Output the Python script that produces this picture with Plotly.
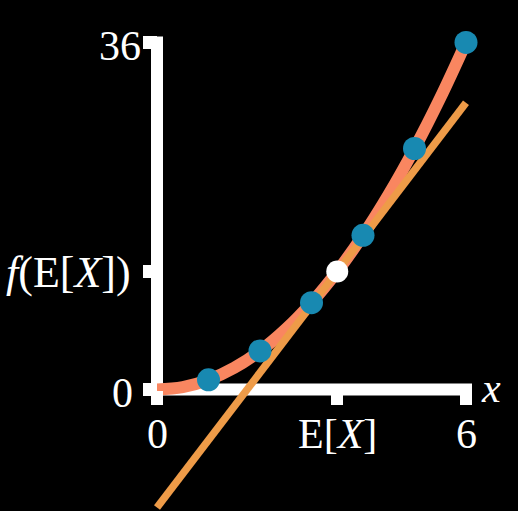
import plotly.graph_objects as go

# ---- data ----
curve_x = [0, 0.5, 1, 1.5, 2, 2.5, 3, 3.5, 4, 4.5, 5, 5.5, 6]
curve_y = [0, 0.25, 1, 2.25, 4, 6.25, 9, 12.25, 16, 20.25, 25, 30.25, 36]
point_x = [1, 2, 3, 4, 5, 6]
point_y = [1, 4, 9, 16, 25, 36]
mean_x = [3.5]
mean_y = [12.25]
tangent_x = [0, 6]
tangent_y = [-12.25, 29.75]
x_tick_vals = [0, 3.5, 6]
x_tick_text = ["0", "E[<i>X</i>]", "6"]
y_tick_vals = [0, 12.25, 36]
y_tick_text = ["0", "<i>f</i>(E[<i>X</i>])", "36"]

# ---- layout geometry ----
W, H = 518, 511
x0_px, px_per_x = 157, 51.5
y0_px, px_per_y = 389.5, 9.64
x_range = [(0 - x0_px) / px_per_x, (W - x0_px) / px_per_x]
y_range = [(y0_px - H) / px_per_y, y0_px / px_per_y]

FONT = "Liberation Serif"
CURVE = "#F98660"
TANGENT = "#EE9B48"
DOT = "#1889B1"

fig = go.Figure()
fig.add_trace(go.Scatter(x=curve_x, y=curve_y, mode="lines", line=dict(color=CURVE, width=12, shape="spline"), hoverinfo="skip"))
fig.add_trace(go.Scatter(x=tangent_x, y=tangent_y, mode="lines", line=dict(color=TANGENT, width=7.5), hoverinfo="skip"))
fig.add_trace(go.Scatter(x=point_x, y=point_y, mode="markers", marker=dict(color=DOT, size=23, line=dict(width=0))))
fig.add_trace(go.Scatter(x=mean_x, y=mean_y, mode="markers", marker=dict(color="white", size=22, line=dict(width=0))))

pad_x = 6 / px_per_x
pad_y = 6 / px_per_y
fig.add_shape(type="rect", xref="x", yref="y", x0=-pad_x, x1=6 + pad_x, y0=-pad_y, y1=pad_y,
              fillcolor="white", line=dict(width=0), layer="below")
fig.add_shape(type="rect", xref="x", yref="y", x0=-pad_x, x1=pad_x, y0=-pad_y, y1=36 + pad_y,
              fillcolor="white", line=dict(width=0), layer="below")

xpos = (0 - y_range[0]) / (y_range[1] - y_range[0])
ypos = (0 - x_range[0]) / (x_range[1] - x_range[0])

# tick labels
for v, t in zip(x_tick_vals, x_tick_text):
    fig.add_annotation(x=v, y=0, xref="x", yref="y", text=t, showarrow=False,
                       xanchor="center", yanchor="middle", yshift=-44,
                       font=dict(family=FONT, size=42, color="white"))
yshifts = {0: -3, 12.25: -1, 36: -4}
xshifts = {0: -22, 12.25: -24, 36: -14}
sizes = {0: 42, 12.25: 44, 36: 42}
for v, t in zip(y_tick_vals, y_tick_text):
    fig.add_annotation(x=0, y=v, xref="x", yref="y", text=t, showarrow=False,
                       xanchor="right", yanchor="middle", xshift=xshifts[v], yshift=yshifts[v],
                       font=dict(family=FONT, size=sizes[v], color="white"))
fig.add_annotation(x=6, y=0, xref="x", yref="y", text="<i>x</i>", showarrow=False,
                   xanchor="center", yanchor="middle", xshift=25, yshift=2,
                   font=dict(family=FONT, size=42, color="white"))

fig.update_layout(
    width=W, height=H,
    margin=dict(l=0, r=0, t=0, b=0),
    paper_bgcolor="black", plot_bgcolor="black",
    showlegend=False,
    xaxis=dict(range=x_range, anchor="free", position=xpos, showgrid=False, zeroline=False,
               showline=False, tickvals=x_tick_vals, showticklabels=False,
               ticks="outside", ticklen=14, tickwidth=12, tickcolor="white", fixedrange=True),
    yaxis=dict(range=y_range, anchor="free", position=ypos, showgrid=False, zeroline=False,
               showline=False, tickvals=y_tick_vals, showticklabels=False,
               ticks="outside", ticklen=14, tickwidth=13, tickcolor="white", fixedrange=True),
)

fig.write_html("out.html", config={"displayModeBar": False},
               post_script="document.body.style.margin='0';document.body.style.padding='0';"
                           "document.body.style.background='black';document.body.style.overflow='hidden';")
